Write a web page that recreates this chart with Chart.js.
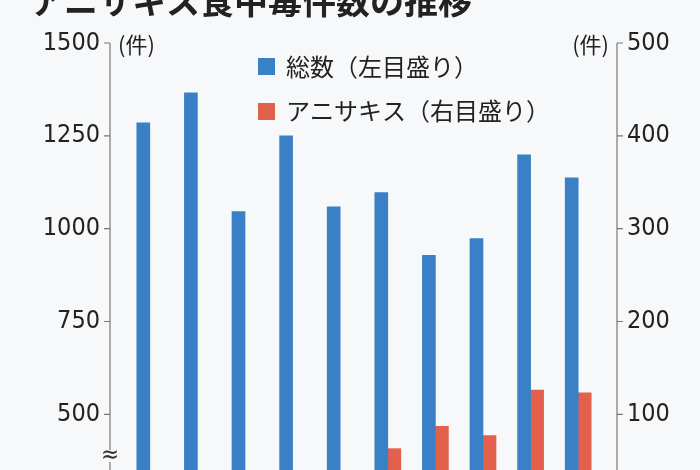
<!DOCTYPE html>
<html>
<head>
<meta charset="utf-8">
<script src="https://cdn.jsdelivr.net/npm/chart.js@4"></script>
<style>
  body { margin: 0; background: #f7f8fa; }
  #wrap { width: 700px; height: 470px; }
</style>
</head>
<body>
<div id="wrap"><canvas id="c"></canvas></div>
<script>
// data
const years = ['1', '2', '3', '4', '5', '6', '7', '8', '9', '10'];
const totalCases = [1285, 1366, 1046, 1250, 1059, 1097, 928, 973, 1199, 1137];
const anisakisCases = [null, null, null, null, null, 63, 87, 77, 126, 123];
const leftTicks = [500, 750, 1000, 1250, 1500];
const rightTicks = [100, 200, 300, 400, 500];

const FONT = '"DejaVu Sans Condensed", "Liberation Sans Narrow", sans-serif';
const JP = '"Noto Sans CJK JP", sans-serif';

// axis lines, units, legend, title, break mark
const decor = {
    id: 'decor',
    afterDraw(chart) {
        const ctx = chart.ctx;
        const a = chart.chartArea;
        const lx = a.left - 16, rx = a.right + 15;
        ctx.save();
        ctx.strokeStyle = '#777';
        ctx.lineWidth = 1.2;
        ctx.beginPath();
        ctx.moveTo(lx, a.top); ctx.lineTo(lx, 470);
        ctx.moveTo(rx, a.top); ctx.lineTo(rx, 470);
        const yl = chart.scales.y, yr = chart.scales.y2;
        leftTicks.forEach(v => { const y = yl.getPixelForValue(v); ctx.moveTo(lx - 6, y); ctx.lineTo(lx, y); });
        rightTicks.forEach(v => { const y = yr.getPixelForValue(v); ctx.moveTo(rx, y); ctx.lineTo(rx + 6, y); });
        ctx.stroke();

        ctx.fillStyle = '#222';
        ctx.font = '22px ' + JP;
        ctx.textBaseline = 'middle';
        ctx.textAlign = 'left';
        ctx.fillText('(件)', lx + 8, a.top + 2);
        ctx.textAlign = 'right';
        ctx.fillText('(件)', rx - 8, a.top + 2);

        // legend
        ctx.textAlign = 'left';
        ctx.font = '24px ' + JP;
        ctx.fillStyle = '#3a80c6';
        ctx.fillRect(258, 58, 17, 17);
        ctx.fillStyle = '#e3604d';
        ctx.fillRect(258, 103, 17, 17);
        ctx.fillStyle = '#222';
        ctx.fillText('総数（左目盛り）', 286, 67);
        ctx.fillText('アニサキス（右目盛り）', 286, 111);

        // title, cut off at top
        ctx.font = 'bold 34px ' + JP;
        ctx.textBaseline = 'bottom';
        ctx.fillText('アニサキス食中毒件数の推移', 30, 18);

        // axis break
        ctx.font = '24px ' + FONT;
        ctx.textBaseline = 'middle';
        ctx.textAlign = 'center';
        ctx.fillStyle = '#f7f8fa';
        ctx.fillRect(lx - 10, 450, 20, 12);
        ctx.fillStyle = '#333';
        ctx.fillText('≈', lx, 456);
        ctx.restore();
    }
};

new Chart(document.getElementById('c'), {
    type: 'bar',
    data: {
        labels: years,
        datasets: [
            { label: '総数（左目盛り）', data: totalCases, backgroundColor: '#3a80c6', yAxisID: 'y', barThickness: 13 },
            { label: 'アニサキス（右目盛り）', data: anisakisCases, backgroundColor: '#e3604d', yAxisID: 'y2', barThickness: 13 }
        ]
    },
    options: {
        responsive: true,
        maintainAspectRatio: false,
        animation: false,
        layout: { padding: { top: 43, bottom: 0 } },
        plugins: { legend: { display: false }, tooltip: { enabled: false } },
        scales: {
            x: { display: false, offset: true },
            y: {
                position: 'left', min: 350, max: 1500,
                afterFit: s => { s.width = 126; s.paddingTop = 0; s.paddingBottom = 0; },
                afterBuildTicks: s => { s.ticks = leftTicks.map(v => ({ value: v })); },
                grid: { display: false, drawTicks: false },
                border: { display: false },
                ticks: { padding: 26, color: '#222', font: { family: FONT, size: 25 }, callback: v => String(v) }
            },
            y2: {
                position: 'right', min: 40, max: 500,
                afterFit: s => { s.width = 98; s.paddingTop = 0; s.paddingBottom = 0; },
                afterBuildTicks: s => { s.ticks = rightTicks.map(v => ({ value: v })); },
                grid: { display: false, drawTicks: false },
                border: { display: false },
                ticks: { padding: 25, color: '#222', font: { family: FONT, size: 25 }, callback: v => String(v) }
            }
        }
    },
    plugins: [decor]
});
</script>
</body>
</html>
